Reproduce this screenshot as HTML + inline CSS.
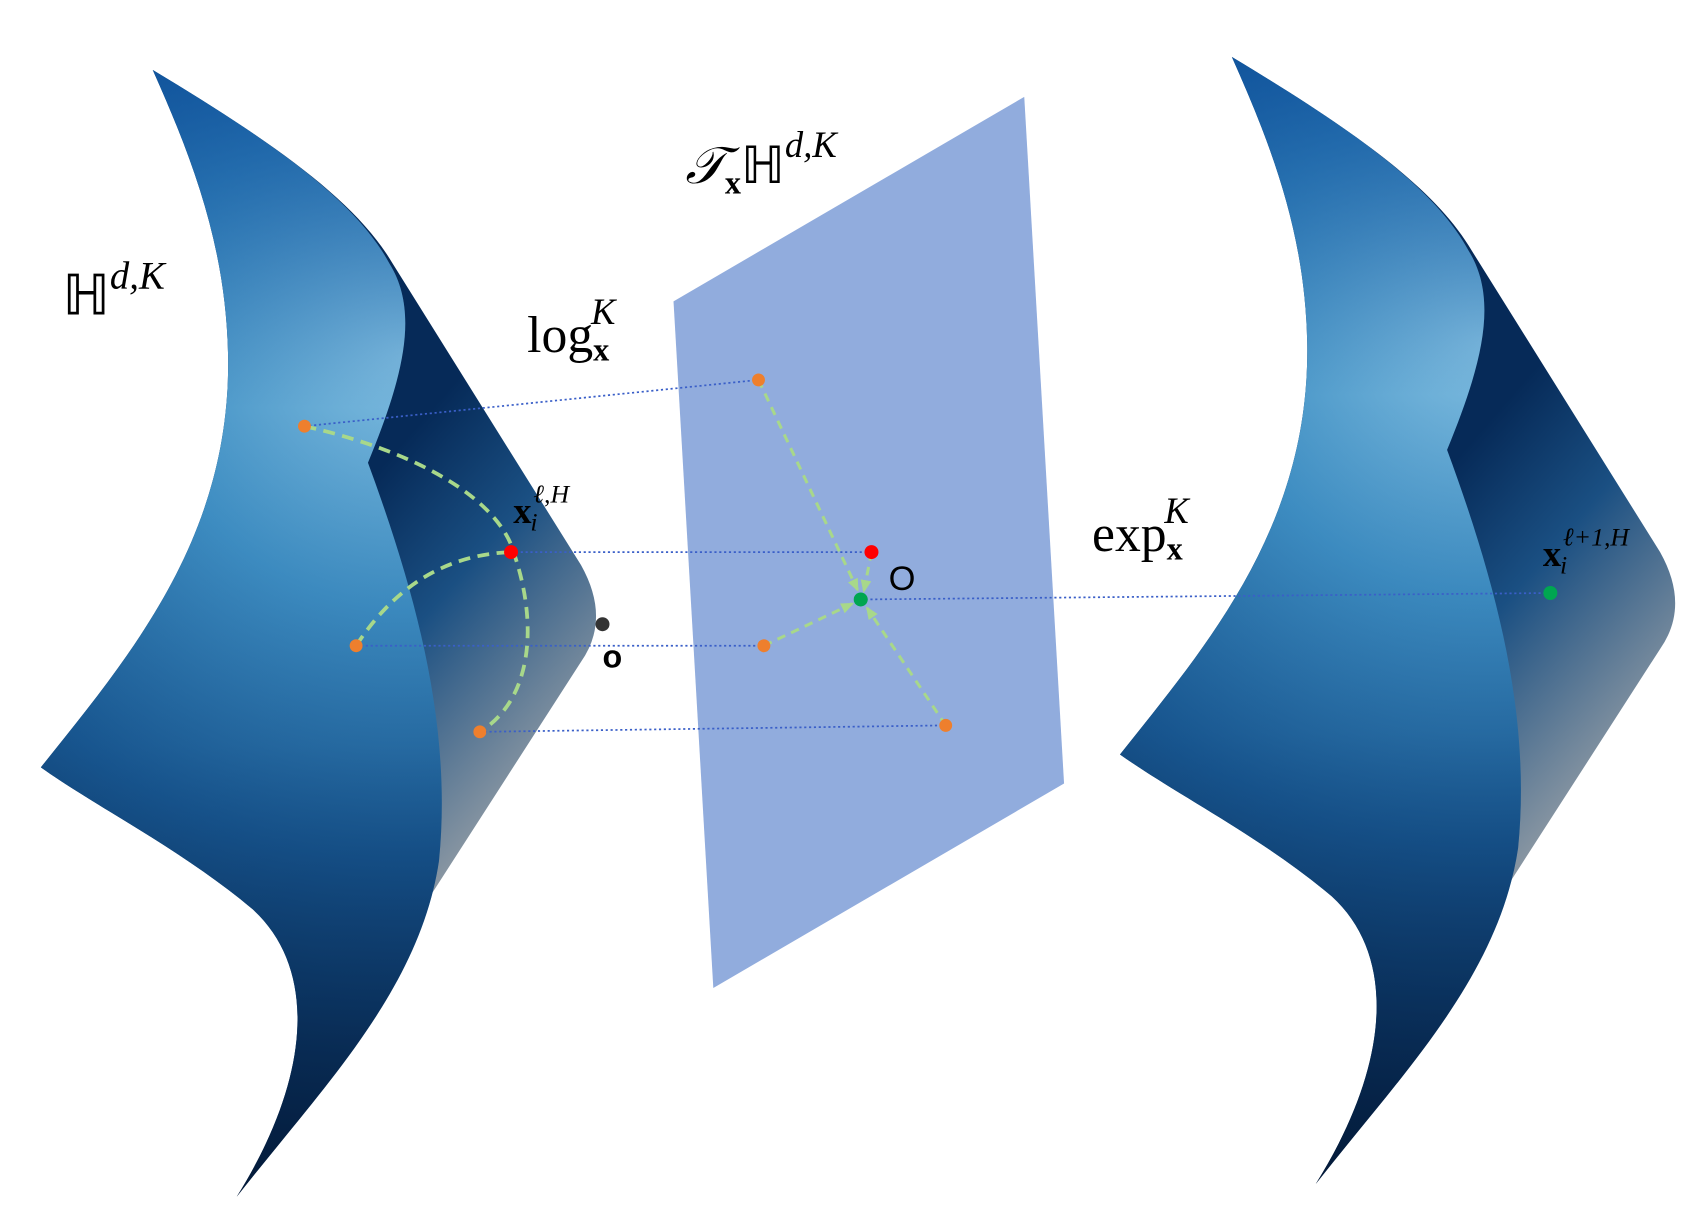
<!DOCTYPE html>
<html><head><meta charset="utf-8"><style>
html,body{margin:0;padding:0;background:#fff;}
svg{display:block;}
text{font-family:"Liberation Serif",serif;fill:#000;}
</style></head><body>
<svg width="1687" height="1214" viewBox="0 0 1568 1128" preserveAspectRatio="none" xmlns="http://www.w3.org/2000/svg">
<defs>
<linearGradient id="back" x1="340" y1="450" x2="570" y2="650" gradientUnits="userSpaceOnUse">
<stop offset="0" stop-color="#062a58"/><stop offset="0.4" stop-color="#1a4f82"/><stop offset="1" stop-color="#8f9aa4"/>
</linearGradient>
<radialGradient id="front" cx="375" cy="330" r="780" gradientUnits="userSpaceOnUse">
<stop offset="0" stop-color="#80bde0"/><stop offset="0.3" stop-color="#4090c4"/><stop offset="0.6" stop-color="#1a5a94"/><stop offset="1" stop-color="#041c40"/>
</radialGradient>
<linearGradient id="shade" x1="0" y1="0" x2="0" y2="1">
<stop offset="0" stop-color="#084a98" stop-opacity="0.75"/><stop offset="0.3" stop-color="#0a4c96" stop-opacity="0"/><stop offset="0.6" stop-color="#0a3a70" stop-opacity="0.15"/><stop offset="1" stop-color="#031a38" stop-opacity="0.85"/>
</linearGradient>
<g id="surf">
<path d="M142,65 C250,130 330,185 365,245 L540,525 Q568,575 540,615 L220,1112 C290,1000 295,900 235,845 C170,790 90,750 38,713 C120,610 215,500 212,330 C210,230 180,150 142,65 Z" fill="url(#back)"/>
<path d="M142,65 C250,130 330,185 362,245 C390,290 375,350 342,430 C390,560 420,680 408,800 C390,920 300,1010 220,1112 C290,1000 295,900 235,845 C170,790 90,750 38,713 C120,610 215,500 212,330 C210,230 180,150 142,65 Z" fill="url(#front)"/>
<path d="M142,65 C250,130 330,185 362,245 C390,290 375,350 342,430 C390,560 420,680 408,800 C390,920 300,1010 220,1112 C290,1000 295,900 235,845 C170,790 90,750 38,713 C120,610 215,500 212,330 C210,230 180,150 142,65 Z" fill="url(#shade)"/>
</g>
<marker id="arr" markerUnits="userSpaceOnUse" markerWidth="12" markerHeight="12" refX="10" refY="6" orient="auto"><path d="M0,1 L12,6 L0,11 Z" fill="#a8d88a"/></marker>
</defs>
<use href="#surf"/>
<use href="#surf" transform="translate(1003,-12)"/>
<polygon points="626,280 952,90 989,728 663,918" fill="#91acdd"/>
<g stroke="#3a5fc8" stroke-width="1.6" stroke-dasharray="2,2.5" fill="none">
<line x1="283" y1="396" x2="705" y2="353"/>
<line x1="475" y1="513" x2="810" y2="513"/>
<line x1="331" y1="600" x2="710" y2="600"/>
<line x1="446" y1="680" x2="879" y2="674"/>
<line x1="800" y1="557" x2="1441" y2="551"/>
</g>
<g stroke="#a8d88a" stroke-width="3.5" stroke-dasharray="11,7" fill="none">
<path d="M283,396 C390,420 465,465 478,515 C500,580 495,650 446,680"/>
<path d="M331,600 C370,540 420,515 475,513"/>
</g>
<g stroke="#a8d88a" stroke-width="2.8" stroke-dasharray="8,6" fill="none" marker-end="url(#arr)">
<line x1="705" y1="353" x2="797" y2="548"/>
<line x1="710" y1="600" x2="792" y2="561"/>
<line x1="879" y1="674" x2="806" y2="565"/>
<line x1="810" y1="513" x2="803" y2="549"/>
</g>
<g>
<circle cx="283" cy="396" r="6" fill="#ee7f2d"/>
<circle cx="331" cy="600" r="6" fill="#ee7f2d"/>
<circle cx="446" cy="680" r="6" fill="#ee7f2d"/>
<circle cx="705" cy="353" r="6" fill="#ee7f2d"/>
<circle cx="710" cy="600" r="6" fill="#ee7f2d"/>
<circle cx="879" cy="674" r="6" fill="#ee7f2d"/>
<circle cx="475" cy="513" r="6.5" fill="#f00"/>
<circle cx="810" cy="513" r="6.5" fill="#f00"/>
<circle cx="800" cy="557" r="6.5" fill="#00a651"/>
<circle cx="1441" cy="551" r="6.5" fill="#00a651"/>
<circle cx="560" cy="580" r="6.5" fill="#333"/>
</g>
<text x="58" y="292" font-size="52">ℍ<tspan font-size="36" font-style="italic" dy="-24">d,K</tspan></text>
<text x="637" y="170" font-size="48"><tspan font-style="italic">𝒯</tspan><tspan font-size="30" font-weight="bold" dy="10">x</tspan><tspan dy="-10">ℍ</tspan><tspan font-size="34" font-style="italic" dy="-24">d,K</tspan></text>
<text x="490" y="327" font-size="48">log<tspan font-size="30" font-weight="bold" dy="8">x</tspan><tspan font-size="34" font-style="italic" dx="-17" dy="-34">K</tspan></text>
<text x="1015" y="512" font-size="48">exp<tspan font-size="30" font-weight="bold" dy="8">x</tspan><tspan font-size="34" font-style="italic" dx="-17" dy="-34">K</tspan></text>
<text x="477" y="486" font-size="34" font-weight="bold">x<tspan font-size="24" font-weight="normal" font-style="italic" dx="-1" dy="7">i</tspan><tspan font-size="24" font-weight="normal" font-style="italic" dx="-4" dy="-26">ℓ,H</tspan></text>
<text x="1434" y="526" font-size="34" font-weight="bold">x<tspan font-size="24" font-weight="normal" font-style="italic" dx="-1" dy="7">i</tspan><tspan font-size="24" font-weight="normal" font-style="italic" dx="-4" dy="-26">ℓ+1,H</tspan></text>
<text x="560" y="620" font-size="30" font-weight="bold" style="font-family:'Liberation Sans',sans-serif">o</text>
<text x="826" y="548" font-size="32" style="font-family:'Liberation Sans',sans-serif">O</text>
</svg>
</body></html>
